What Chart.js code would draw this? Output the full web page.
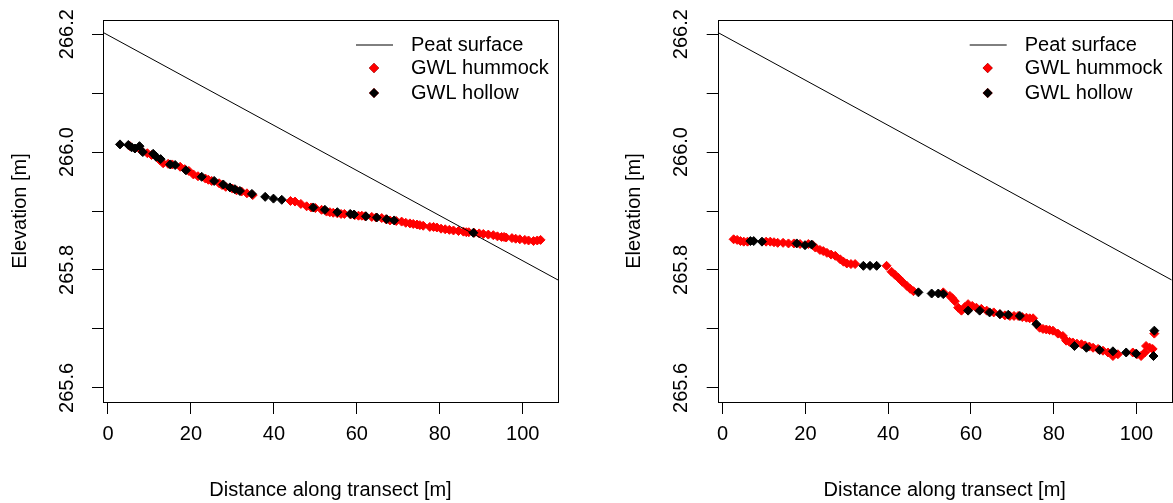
<!DOCTYPE html>
<html>
<head>
<meta charset="utf-8">
<script src="https://cdn.jsdelivr.net/npm/chart.js@4/dist/chart.umd.min.js"></script>
<style>
body { margin: 0; background: #fff; }
canvas { position: absolute; top: 0; }
</style>
</head>
<body>
<canvas id="panelA" width="586" height="503" style="left:0"></canvas>
<canvas id="panelB" width="587" height="503" style="left:586px"></canvas>
<script>
// tick labels
const xTicks = [0, 20, 40, 60, 80, 100];
const yTicks = [265.6, 265.7, 265.8, 265.9, 266.0, 266.1, 266.2];
const yLabels = [265.6, 265.8, 266.0, 266.2];
const legendLabels = ['Peat surface', 'GWL hummock', 'GWL hollow'];

// peat surface line, read at the plot edges
const peatSurface = [[-1.2, 266.203], [108.5, 265.783]];

// left panel: [distance, elevation]
const hummockA = [
  [5.3, 266.010], [8.1, 266.002], [9.5, 265.998], [10.5, 265.995], [12.5, 265.986], [13.3, 265.981],
  [14.5, 265.980], [15.5, 265.979], [17.4, 265.975], [18.5, 265.971], [19.5, 265.968], [20.6, 265.962],
  [21.7, 265.959], [23.5, 265.955], [24.2, 265.953], [25.0, 265.951], [26.8, 265.947], [27.5, 265.944],
  [28.4, 265.941], [30.0, 265.938], [31.0, 265.935], [32.2, 265.933], [33.5, 265.930], [34.9, 265.927],
  [44.0, 265.917], [45.1, 265.916], [46.5, 265.912], [47.9, 265.908], [49.0, 265.906], [50.0, 265.905],
  [51.5, 265.902], [52.7, 265.899], [53.5, 265.898], [54.3, 265.897], [55.3, 265.896], [56.2, 265.895],
  [57.0, 265.895], [58.5, 265.894], [59.5, 265.893], [60.4, 265.892], [61.2, 265.892], [62.0, 265.891],
  [63.6, 265.890], [64.6, 265.889], [66.0, 265.888], [67.0, 265.886], [68.0, 265.884], [69.5, 265.883],
  [70.8, 265.882], [71.8, 265.880], [72.8, 265.879], [73.6, 265.878], [74.5, 265.877], [75.2, 265.876],
  [76.0, 265.875], [77.6, 265.873], [78.5, 265.873], [79.3, 265.872], [80.3, 265.870], [81.3, 265.869],
  [82.3, 265.868], [83.3, 265.867], [84.5, 265.866], [85.7, 265.865], [86.4, 265.864], [87.0, 265.864],
  [88.3, 265.863], [89.5, 265.862], [90.5, 265.861], [91.7, 265.860], [92.9, 265.859], [93.9, 265.857],
  [94.9, 265.856], [95.5, 265.856], [96.0, 265.855], [97.4, 265.854], [98.3, 265.853], [99.3, 265.852],
  [100.5, 265.851], [101.4, 265.850], [102.6, 265.849], [103.5, 265.850], [104.3, 265.851]
];
const hollowA = [
  [2.9, 266.013], [4.9, 266.012], [5.7, 266.008], [6.5, 266.006], [7.6, 266.010], [8.4, 266.000],
  [10.9, 265.997], [11.6, 265.992], [12.7, 265.988], [15.0, 265.979], [16.2, 265.978], [18.8, 265.969],
  [22.6, 265.958], [25.6, 265.951], [27.8, 265.945], [29.4, 265.940], [30.6, 265.937], [31.8, 265.934],
  [34.7, 265.929], [37.9, 265.924], [39.9, 265.921], [41.9, 265.919], [49.5, 265.906], [52.3, 265.902],
  [55.3, 265.898], [58.4, 265.895], [59.3, 265.894], [62.2, 265.891], [64.8, 265.889], [67.2, 265.886],
  [69.0, 265.884], [88.1, 265.863]
];

// right panel
const hummockB = [
  [2.65, 265.852], [3.5, 265.851], [4.3, 265.849], [5.1, 265.848], [6.0, 265.848], [10.5, 265.848],
  [11.5, 265.848], [12.4, 265.847], [13.3, 265.846], [14.6, 265.846], [15.9, 265.845], [17.2, 265.845],
  [18.7, 265.844], [20.7, 265.844], [21.8, 265.842], [22.4, 265.838], [23.5, 265.834], [24.3, 265.832],
  [25.2, 265.829], [26.2, 265.826], [27.2, 265.824], [28.4, 265.818], [29.2, 265.814], [30.0, 265.811],
  [31.0, 265.810], [32.0, 265.810], [39.6, 265.807], [40.8, 265.797], [41.6, 265.792], [42.4, 265.787],
  [43.4, 265.780], [44.5, 265.773], [45.3, 265.768], [46.1, 265.764], [53.3, 265.762], [54.9, 265.756],
  [55.5, 265.752], [56.1, 265.747], [56.9, 265.736], [57.7, 265.731], [58.5, 265.737], [59.3, 265.742],
  [60.3, 265.739], [61.3, 265.736], [62.5, 265.734], [63.8, 265.731], [65.5, 265.728], [67.0, 265.725],
  [68.2, 265.723], [69.4, 265.722], [70.4, 265.722], [71.4, 265.722], [72.4, 265.720], [73.4, 265.719],
  [74.2, 265.718], [75.0, 265.718], [76.6, 265.702], [77.4, 265.700], [78.2, 265.699], [79.0, 265.698],
  [79.8, 265.697], [81.0, 265.692], [82.2, 265.688], [83.0, 265.680], [83.8, 265.678], [84.6, 265.677],
  [85.6, 265.675], [86.7, 265.674], [87.6, 265.672], [88.6, 265.670], [89.5, 265.668], [90.7, 265.666],
  [91.9, 265.663], [93.1, 265.660], [94.3, 265.654], [95.5, 265.657], [99.1, 265.660], [100.1, 265.657],
  [101.1, 265.654], [102.0, 265.660], [102.3, 265.671], [103.2, 265.668], [103.9, 265.666], [104.3, 265.692]
];
const hollowB = [
  [6.7, 265.849], [7.5, 265.849], [9.5, 265.848], [17.9, 265.845], [19.9, 265.842], [21.5, 265.843],
  [34.0, 265.807], [35.6, 265.807], [37.2, 265.807], [47.3, 265.762], [50.5, 265.760], [52.1, 265.760],
  [53.3, 265.759], [59.3, 265.731], [62.1, 265.731], [64.5, 265.728], [67.0, 265.725], [69.0, 265.724],
  [71.8, 265.722], [75.8, 265.708], [85.0, 265.671], [87.9, 265.668], [91.1, 265.664], [94.3, 265.662],
  [97.5, 265.660], [99.9, 265.658], [104.3, 265.697], [104.1, 265.654]
];

const FONT = "'Liberation Sans', Arial, sans-serif";
Chart.defaults.font.family = FONT;
Chart.defaults.color = '#000';

const toPts = arr => arr.map(p => ({ x: p[0], y: p[1] }));

// R-like box, rotated y labels and legend inside the plot
const rDecor = {
    id: 'rDecor',
    afterDraw(chart) {
        const { ctx, chartArea: a } = chart;
        const yScale = chart.scales.y;
        ctx.save();
        ctx.strokeStyle = '#000';
        ctx.lineWidth = 1;
        ctx.strokeRect(Math.round(a.left) + 0.5, Math.round(a.top) + 0.5,
            Math.round(a.right - a.left), Math.round(a.bottom - a.top));

        ctx.fillStyle = '#000';
        ctx.font = '20px ' + FONT;
        ctx.textAlign = 'center';
        ctx.textBaseline = 'middle';
        yLabels.forEach(v => {
            ctx.save();
            ctx.translate(a.left - 36, yScale.getPixelForValue(v));
            ctx.rotate(-Math.PI / 2);
            ctx.fillText(v.toFixed(1), 0, 0);
            ctx.restore();
        });

        // legend
        const lx = a.right - 147;
        const rows = [a.top + 25, a.top + 48, a.top + 73];
        ctx.textAlign = 'left';
        legendLabels.forEach((txt, i) => ctx.fillText(txt, lx, rows[i]));
        ctx.beginPath();
        ctx.moveTo(a.right - 202, rows[0]);
        ctx.lineTo(a.right - 165, rows[0]);
        ctx.stroke();
        ['#ff0000', '#000000'].forEach((c, i) => {
            Chart.helpers.drawPoint(ctx, { pointStyle: 'rectRot', radius: 5, borderWidth: 0 },
                a.right - 184, rows[i + 1]);
            ctx.fillStyle = c;
            ctx.fill();
        });
        ctx.restore();
    }
};

function makePanel(id, hummock, hollow, areaLeft, areaRight, width) {
    new Chart(document.getElementById(id), {
        type: 'scatter',
        data: {
            datasets: [
                {
                    type: 'line',
                    label: legendLabels[0],
                    data: toPts(peatSurface),
                    borderColor: '#000',
                    borderWidth: 1,
                    pointRadius: 0,
                    order: 0,
                },
                {
                    label: legendLabels[2],
                    data: toPts(hollow),
                    pointStyle: 'rectRot',
                    pointRadius: 4.5,
                    backgroundColor: '#000000',
                    borderColor: '#000000',
                    borderWidth: 1,
                    order: 1,
                },
                {
                    label: legendLabels[1],
                    data: toPts(hummock),
                    pointStyle: 'rectRot',
                    pointRadius: 4.5,
                    backgroundColor: '#ff0000',
                    borderColor: '#ff0000',
                    borderWidth: 1,
                    order: 2,
                },
            ],
        },
        options: {
            responsive: false,
            animation: false,
            devicePixelRatio: 1,
            layout: {
                autoPadding: false,
                padding: { top: 20, right: width - areaRight, left: 0, bottom: 0 },
            },
            plugins: {
                legend: { display: false },
                tooltip: { enabled: false },
            },
            scales: {
                x: {
                    type: 'linear',
                    min: -1.2,
                    max: 108.5,
                    afterBuildTicks: s => { s.ticks = xTicks.map(v => ({ value: v })); },
                    afterFit: s => { s.height = 101; },
                    grid: { drawOnChartArea: false, drawTicks: true, tickLength: 12, color: '#000' },
                    border: { display: false },
                    ticks: { color: '#000', font: { size: 20 }, padding: 8, maxRotation: 0, autoSkip: false },
                    title: {
                        display: true,
                        text: 'Distance along transect [m]',
                        color: '#000',
                        font: { size: 20 },
                        padding: { top: 0, bottom: 1 },
                    },
                },
                y: {
                    type: 'linear',
                    min: 265.576,
                    max: 266.224,
                    afterBuildTicks: s => { s.ticks = yTicks.map(v => ({ value: v })); },
                    afterFit: s => { s.width = areaLeft; },
                    grid: { drawOnChartArea: false, drawTicks: true, tickLength: 11, color: '#000' },
                    border: { display: false },
                    ticks: { callback: () => '' },
                    title: {
                        display: true,
                        text: 'Elevation [m]',
                        color: '#000',
                        font: { size: 20 },
                        padding: { top: areaLeft - 95, bottom: 0 },
                    },
                },
            },
        },
        plugins: [rDecor],
    });
}

makePanel('panelA', hummockA, hollowA, 103, 558, 586);
makePanel('panelB', hummockB, hollowB, 131.7, 585.7, 587);
</script>
</body>
</html>
